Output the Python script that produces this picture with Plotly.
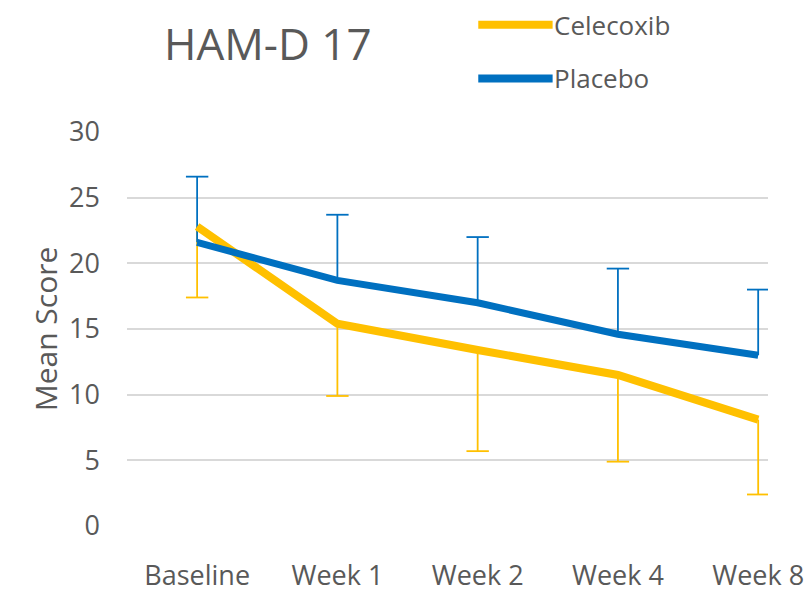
import plotly.graph_objects as go

categories = ["Baseline", "Week 1", "Week 2", "Week 4", "Week 8"]
celecoxib = [22.8, 15.4, 13.4, 11.5, 8.1]
celecoxib_err_minus = [5.4, 5.5, 7.7, 6.6, 5.7]
placebo = [21.6, 18.7, 17.0, 14.6, 13.0]
placebo_err_plus = [5.0, 5.0, 5.0, 5.0, 5.0]
series_names = ["Celecoxib", "Placebo"]
colors = ["#FFC000", "#0070C0"]
title_text = "HAM-D 17"
y_title = "Mean Score"
y_ticks = [0, 5, 10, 15, 20, 25, 30]

FONT = "Open Sans"
GREY = "#595959"

fig = go.Figure()

# one-sided error bars: stems + caps
err_specs = [
    (celecoxib, [-e for e in celecoxib_err_minus], colors[0]),
    (placebo, placebo_err_plus, colors[1]),
]
for vals, errs, col in err_specs:
    xs, ys = [], []
    for c, v, e in zip(categories, vals, errs):
        xs += [c, c, None]
        ys += [v, v + e, None]
    fig.add_trace(go.Scatter(x=xs, y=ys, mode="lines", line=dict(color=col, width=1.8),
                             showlegend=False, hoverinfo="skip"))
    fig.add_trace(go.Scatter(x=categories, y=[v + e for v, e in zip(vals, errs)],
                             mode="markers",
                             marker=dict(symbol="line-ew", size=16,
                                         line=dict(color=col, width=1.8)),
                             showlegend=False, hoverinfo="skip"))

fig.add_trace(go.Scatter(
    x=categories, y=celecoxib, mode="lines", name=series_names[0],
    line=dict(color=colors[0], width=8), showlegend=False,
))
fig.add_trace(go.Scatter(
    x=categories, y=placebo, mode="lines", name=series_names[1],
    line=dict(color=colors[1], width=7), showlegend=False,
))

# manual legend (paper coordinates)
legend_y = [1.272, 1.136]
for name, col, ly in zip(series_names, colors, legend_y):
    fig.add_shape(type="line", xref="paper", yref="paper",
                  x0=0.548, x1=0.664, y0=ly, y1=ly,
                  line=dict(color=col, width=8))
    fig.add_annotation(text=name, xref="paper", yref="paper",
                       x=0.665, y=ly, xanchor="left", yanchor="middle",
                       borderpad=0, showarrow=False,
                       font=dict(family=FONT, size=26, color=GREY))

fig.add_annotation(text=title_text, xref="paper", yref="paper",
                   x=0.055, y=1.226, xanchor="left", yanchor="middle",
                   showarrow=False, font=dict(family=FONT, size=44, color=GREY))

fig.update_layout(
    width=812, height=592,
    margin=dict(l=119, r=52, t=124, b=74),
    paper_bgcolor="white", plot_bgcolor="white",
    font=dict(family=FONT, color=GREY, size=22),
)
fig.update_xaxes(range=[-0.5, 4.07], showgrid=False, zeroline=False,
                 showline=False, ticks="", ticklabelstandoff=31, automargin=False,
                 tickfont=dict(size=27, color=GREY))
fig.update_yaxes(range=[0, 30], tickvals=y_ticks, showgrid=True,
                 gridcolor="#D9D9D9", gridwidth=1.5, zeroline=False,
                 showline=False, ticks="", ticklabelstandoff=26, automargin=False,
                 tickfont=dict(size=27, color=GREY),
                 title=dict(text=y_title, font=dict(size=30, color=GREY), standoff=2))

fig.write_html("out.html")
